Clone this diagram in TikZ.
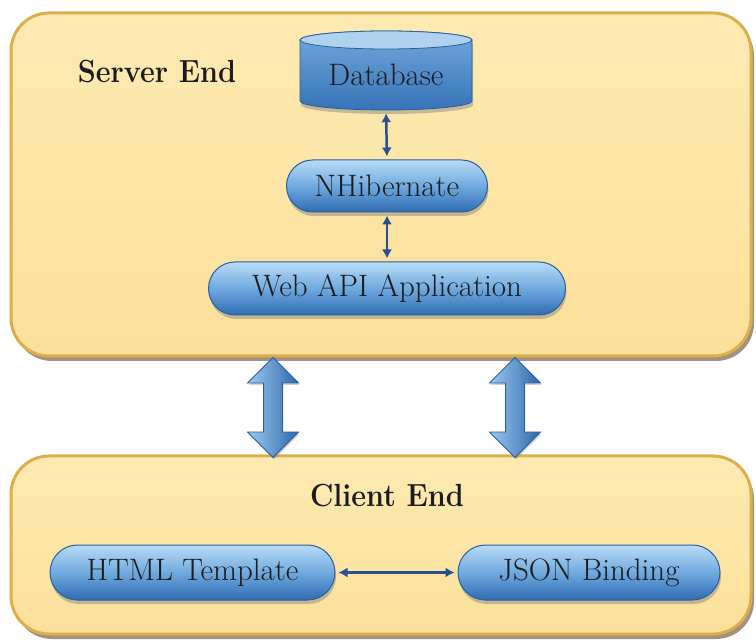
\documentclass[tikz,border=0pt]{standalone}
\usepackage{fontspec}
\usetikzlibrary{shapes.arrows,shapes.misc,shadows,arrows.meta}
\definecolor{boxfill}{HTML}{FBE09A}
\definecolor{boxtop}{HTML}{FDEAB2}
\definecolor{boxborder}{HTML}{DDAE4A}
\definecolor{pilltop}{HTML}{B8DCF6}
\definecolor{pillmid}{HTML}{6FA9DF}
\definecolor{pillbot}{HTML}{2F6DB2}
\definecolor{pillborder}{HTML}{2A5F9E}
\definecolor{dbcap}{HTML}{B0D2EE}
\definecolor{dbtop}{HTML}{72A8DA}
\definecolor{dbbot}{HTML}{3673B8}
\definecolor{arrl}{HTML}{9CCAF0}
\definecolor{arrr}{HTML}{2C67AA}
\definecolor{linkblue}{HTML}{2C4F91}
\definecolor{txt}{HTML}{1C1C1C}
\newcommand\mypilltext{\rmfamily\fontsize{31}{34}\selectfont}
\newcommand\myheadtext{\rmfamily\bfseries\fontsize{32}{36}\selectfont}
\newcommand\narrow[1]{\scalebox{0.9}[1]{#1}}
\tikzset{
  panel/.style={rounded corners=38pt, top color=boxtop, bottom color=boxfill,
    draw=boxborder, line width=3pt,
    drop shadow={shadow xshift=3pt, shadow yshift=-5pt, fill=black!55!brown, opacity=0.55}},
  pill/.style={rounded rectangle, inner sep=0pt, top color=pilltop, bottom color=pillbot,
    middle color=pillmid, draw=pillborder, line width=1pt,
    font=\mypilltext, text=txt,
    drop shadow={shadow xshift=1pt, shadow yshift=-4pt, opacity=0.45}},
  heading/.style={font=\myheadtext, text=txt},
  bigarrow/.style={double arrow, rotate=90, inner xsep=0pt, inner ysep=9pt,
    double arrow head extend=16pt, minimum height=100pt,
    left color=arrl, right color=arrr, draw=pillborder, line width=0.8pt,
    drop shadow={shadow xshift=1pt, shadow yshift=-2pt, opacity=0.35}},
  link/.style={{Latex[length=9pt,width=10pt]}-{Latex[length=9pt,width=10pt]},
    line width=2.5pt, draw=linkblue, shorten >=3pt, shorten <=3pt}
}
\begin{document}
\begin{tikzpicture}[x=1pt,y=1pt]
\useasboundingbox[fill=white] (0,0) rectangle (756,641);
% panels
\node[panel, minimum width=740pt, minimum height=343pt] (server) at (381,456.5) {};
\node[panel, minimum width=740pt, minimum height=178pt] (client) at (381,96) {};
% big arrows
\node[bigarrow] (a1) at (273,233.5) {};
\node[bigarrow] (a2) at (515,233.5) {};
% headings
\node[heading] (slabel) at (157,569) {\narrow{Server End}};
\node[heading] (clabel) at (387,145) {\narrow{Client End}};
% database cylinder
\shade[top color=dbtop, bottom color=dbbot, draw=pillborder, line width=0.8pt,
  drop shadow={shadow xshift=1pt, shadow yshift=-4pt, opacity=0.45}]
  (300,601) -- (300,540) arc[start angle=180,end angle=360,x radius=86,y radius=9]
  -- (472,601) arc[start angle=0,end angle=180,x radius=86,y radius=9] -- cycle;
\filldraw[fill=dbcap, draw=pillborder, line width=0.8pt] (386,601) ellipse[x radius=86, y radius=9];
\node[minimum width=172pt, minimum height=79pt, inner sep=0pt] (db) at (386,570.5) {};
\node[font=\mypilltext, text=txt] (dbt) at (386,566) {Database};
% pills
\node[pill, minimum width=201pt, minimum height=52pt] (nh) at (387,455) {NHibernate};
\node[pill, minimum width=357pt, minimum height=53pt] (web) at (387,352.5) {Web API Application};
\node[pill, minimum width=285pt, minimum height=55pt] (html) at (192.5,68.5) {HTML Template};
\node[pill, minimum width=262pt, minimum height=55pt] (json) at (589,68.5) {JSON Binding};
% links
\draw[link] (db.south) -- (nh.north);
\draw[link] (nh.south) -- (web.north);
\draw[link] (html.east) -- (json.west);
\end{tikzpicture}
\end{document}
